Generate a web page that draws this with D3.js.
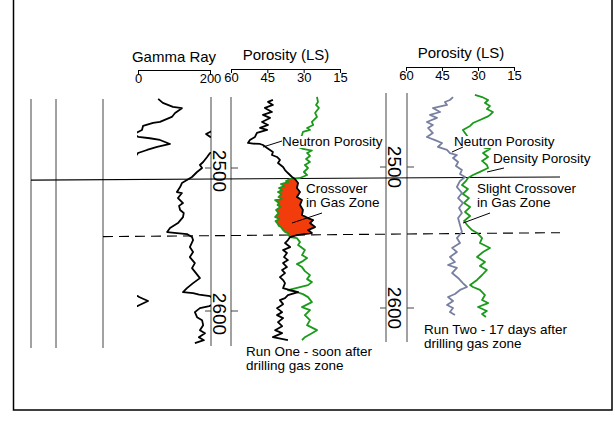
<!DOCTYPE html>
<html>
<head>
<meta charset="utf-8">
<script src="https://cdn.jsdelivr.net/npm/d3@7"></script>
<style>
  body { margin: 0; background: #fff; }
  svg { display: block; }
  text { font-family: Arial, "Liberation Sans", sans-serif; }
</style>
</head>
<body>
<div id="chart"></div>
<script>
// ---- data read off the log: [depth (ft), value] ----
// gamma ray in API; values over 200 wrap back onto the 0-200 scale
const gammaRay = [
  [2451.7,256],[2454.5,269],[2457.3,297],[2458.2,322],[2461.5,303],[2464.3,294],[2467.8,261],[2468.5,242],
  [2470.6,214],[2473.4,211],[2476.2,189],[2478.3,201],[2479.2,233],[2480.4,261],[2483.2,289],[2485.3,253],
  [2487.4,225],[2489.5,200],[2492.3,192],[2495.8,181],[2497.9,172],[2500,178],[2502.8,164],[2506.3,150],
  [2508.4,136],[2510.5,122],[2513.3,117],[2516.8,108],[2517.5,122],[2521,111],[2524.5,125],[2526.5,114],
  [2529.4,117],[2531.5,127],[2534.3,125],[2538.5,111],[2542,89],[2544.8,81],[2545.5,108],[2546.2,136],
  [2548.3,150],[2550.4,153],[2555.3,144],[2558.8,153],[2562.3,144],[2566.5,158],[2570,150],[2577,172],
  [2580.5,153],[2584,136],[2586.8,125],[2587.5,153],[2588.5,170],[2589.6,200],[2590.2,203],[2593,228],
  [2596,203],[2596.6,198],[2598,172],[2600.8,158],[2604.3,164],[2606.4,178],[2609.9,181],[2613.4,172],
  [2615.5,186],[2618.3,169],[2620.4,183],[2622.5,158]
];

// Run One (soon after drilling), porosity in % limestone units
const runOneNeutron = [
  [2452.4,42.7],[2453.8,44.7],[2455.9,42.7],[2458,46.0],[2460.8,43.1],[2462.9,46.8],[2465,43.9],[2467.8,47.2],
  [2469.9,44.7],[2472,48.0],[2473.4,45.1],[2475.5,49.3],[2478.3,50.1],[2480.4,52.2],[2482.5,53.0],[2482.9,50.9],
  [2483.2,48.0],[2483.9,46.8],[2486,45.1],[2487.4,43.9],[2488.8,42.7],[2490.9,43.1],[2492.3,41.0],[2494.4,39.8],
  [2496.5,40.6],[2499.3,38.5],[2501.4,37.7],[2503.5,36.5],[2506.3,34.8],[2507.7,33.6],
  [2510.5,32.3],[2514,32.8],[2516.8,31.5],[2520.3,32.8],[2522.4,30.7],[2525.9,31.5],[2529.4,30.3],[2532.9,30.7],
  [2535,28.2],[2536.4,26.1],[2538.5,27.4],[2541.3,25.3],[2543.4,28.2],[2545.5,26.6],[2546.9,32.8],[2548.3,35.6],
  [2550.4,36.5],[2552.5,37.7],[2555.3,35.6],[2557.4,38.5],[2559.5,36.9],[2562.3,38.1],[2564.4,36.5],[2566.5,38.5],
  [2569.3,36.9],[2571.4,38.9],[2573.5,37.7],[2576.3,39.8],[2578.4,38.5],[2580.5,37.7],[2584,38.5],[2585.4,35.6],
  [2586.8,32.3],[2588.9,36.5],[2591,37.7],[2592.4,39.8],[2595.2,38.5],[2598,41.0],[2600.8,38.9],[2602.9,41.0],
  [2605,38.5],[2607.8,40.6],[2610.6,38.9],[2613.4,41.8],[2615.5,38.9],[2618.3,42.7],[2620.4,36.5]
];
const runOneDensity = [
  [2450.3,24.5],[2453.8,24.1],[2455.9,24.9],[2458,23.7],[2461.5,25.3],[2464.3,24.5],[2467.8,26.6],[2469.9,26.1],
  [2472,28.6],[2473.4,27.4],[2474.8,30.3],[2476.9,30.7],[2480.4,31.5],[2485.3,32.3],[2486.7,30.3],[2487.8,26.6],
  [2489.5,28.6],[2491.6,27.4],[2493.7,29.0],[2495.8,27.4],[2497.9,29.5],[2500,28.2],[2502.8,29.9],[2504.9,28.6],
  [2507,31.5],
  [2507.7,35.6],[2509.1,37.3],[2509.8,36.4],[2511.2,39.4],[2512.6,38.0],[2514,40.2],[2515.4,38.9],[2516.8,40.6],
  [2518.2,39.2],[2520.3,40.4],[2521.7,39.0],[2522.4,41.8],[2524.5,40.2],[2525.9,40.8],[2527.3,39.6],[2529.4,41.4],
  [2531.5,40.4],[2534.3,41.8],[2535.7,40.0],[2537.1,41.6],[2538.5,40.9],[2540.6,40.2],[2541.3,39.4],[2543.4,38.5],
  [2544.8,37.6],[2545.5,36.5],[2547,36.2],[2548.3,35.6],
  [2549,32.8],[2551.8,31.5],[2553.9,32.3],[2557.4,29.5],[2560.9,30.7],[2563,28.6],[2565.1,30.3],[2567.2,32.8],
  [2569.3,30.7],[2572.1,29.5],[2574.9,27.4],[2577.7,28.6],[2579.8,26.6],[2581.9,28.2],[2583.3,31.5],[2585.4,36.5],
  [2586.8,32.8],[2588.2,30.3],[2590.3,28.2],[2593.8,26.6],[2597.3,30.7],[2599.4,27.4],[2602.9,29.5],[2606.4,27.4],
  [2609.9,28.6],[2613.4,24.5],[2615.5,26.6],[2618.3,29.5],[2620.4,30.7]
];

// Run Two (17 days after drilling)
const runTwoNeutron = [
  [2450.4,40.4],[2452.5,41.7],[2453.9,43.8],[2456,42.9],[2458.2,48.8],[2461,45.8],[2463.1,50.0],[2465.2,47.1],
  [2468.1,51.3],[2470.2,48.8],[2472.3,50.8],[2475.9,48.8],[2478.7,51.3],[2480.9,47.9],[2483,45.0],[2485.8,46.7],
  [2487.9,42.9],[2490.1,41.7],[2491.5,38.8],[2493.6,40.4],[2496.5,38.3],[2499.3,39.2],[2502.1,36.7],[2505,37.5],
  [2507.1,35.4],[2509.9,37.5],[2514.2,38.8],[2518.4,36.7],[2522,38.3],[2525.5,36.3],[2529.1,37.9],[2532.6,36.7],
  [2536.2,38.3],[2541.1,37.5],[2546.1,36.7],[2550.4,38.8],[2553.9,37.5],[2557.4,40.8],[2560.3,38.8],[2563.8,41.7],
  [2567.4,39.6],[2569.5,42.5],[2571.6,38.8],[2575.2,40.8],[2578.7,38.3],[2582.3,36.3],[2585.1,34.6],[2587.2,37.5],
  [2590.1,39.6],[2592.2,42.5],[2595,40.4],[2597.9,42.9],[2600,40.4],[2602.8,41.7],[2605,39.6]
];
const runTwoDensity = [
  [2448.9,31.3],[2450.4,28.3],[2452.5,25.8],[2454.6,27.1],[2456.7,25.0],[2458.9,26.3],[2461,23.8],[2463.1,25.0],
  [2464.5,26.3],[2466.7,29.2],[2468.8,32.1],[2470.9,33.3],[2473.8,36.3],[2475.9,35.4],[2480.9,33.3],[2486.5,27.1],
  [2487.2,25.0],[2490.1,27.9],[2492.9,25.8],[2495.7,28.3],[2498.6,26.3],[2500.7,25.8],[2503.5,29.2],[2505.7,32.1],
  [2507.8,34.2],[2509.9,35.0],[2512.8,36.7],[2515.6,34.2],[2519.1,36.3],[2522,33.8],[2525.5,35.8],[2528.4,33.3],
  [2531.9,35.4],[2534.8,33.3],[2538.3,35.8],[2541.8,34.2],[2544.7,32.5],[2546.8,30.4],[2550.4,28.3],[2553.9,29.2],
  [2557.4,25.0],[2560.3,27.9],[2563.8,30.4],[2567.4,27.1],[2570.2,29.2],[2573,26.3],[2576.6,28.3],[2580.1,30.4],
  [2583.7,33.3],[2585.1,32.1],[2587.2,29.2],[2590.8,27.1],[2594.3,28.3],[2596.5,25.8],[2599.3,30.0],[2602.1,26.3],
  [2604.3,28.3],[2606.4,26.7]
];

const gammaTicks = [0, 200];
const porosityTicks = [60, 45, 30, 15];
const depthTicks = [2500, 2600];
const gasTopDepth = 2508.5;
const gasBaseDepth = 2548;

function drawLog(div) {
  const width = 615, height = 431;
  const font = 'Arial, "Liberation Sans", sans-serif';

  const svg = div.append('svg')
    .attr('width', width)
    .attr('height', height);

  // depth scales (each run's track is drawn a little differently)
  const yOne = d3.scaleLinear().domain([2500, 2600]).range([168, 311]);
  const yTwo = d3.scaleLinear().domain([2500, 2600]).range([167, 308]);

  // value scales
  const gx = d3.scaleLinear().domain([0, 200]).range([138, 210]);
  const pxOne = d3.scaleLinear().domain([60, 15]).range([231, 340]);
  const pxTwo = d3.scaleLinear().domain([60, 15]).range([406, 514]);

  const green = '#1a9a1a';
  const slate = '#7880a2';
  const red = '#f23c0c';

  // frame
  svg.append('rect')
    .attr('x', 13.5).attr('y', -2)
    .attr('width', 598.5).attr('height', 412)
    .attr('fill', 'none')
    .attr('stroke', '#000')
    .attr('stroke-width', 1.5);

  // track lines
  const lines = svg.append('g').attr('stroke', '#444').attr('stroke-width', 1);
  [31, 56, 103].forEach(x => {
    lines.append('line').attr('x1', x).attr('x2', x).attr('y1', 99).attr('y2', 348);
  });
  [211, 231].forEach(x => {
    lines.append('line').attr('x1', x).attr('x2', x).attr('y1', 97).attr('y2', 346);
  });
  [386, 407].forEach(x => {
    lines.append('line').attr('x1', x).attr('x2', x).attr('y1', 93).attr('y2', 342);
  });

  // depth ticks and labels
  function depthTrack(y, left, right, base, shift) {
    depthTicks.forEach(d => {
      svg.append('line').attr('x1', left - 6).attr('x2', left)
        .attr('y1', y(d)).attr('y2', y(d)).attr('stroke', '#444');
      svg.append('line').attr('x1', right).attr('x2', right + 7)
        .attr('y1', y(d)).attr('y2', y(d)).attr('stroke', '#444');
      svg.append('text')
        .attr('transform', `translate(${base},${y(d) + shift}) rotate(90)`)
        .attr('text-anchor', 'middle')
        .attr('font-size', 19)
        .attr('fill', '#000')
        .text(d);
    });
  }
  depthTrack(yOne, 211, 231, 213, 3);
  depthTrack(yTwo, 386, 407, 388, 0);

  // gas zone markers
  svg.append('line')
    .attr('x1', 31).attr('y1', yOne(gasTopDepth))
    .attr('x2', 560).attr('y2', yTwo(gasTopDepth) - 2)
    .attr('stroke', '#000').attr('stroke-width', 1.1);
  svg.append('line')
    .attr('x1', 103).attr('y1', yOne(gasBaseDepth))
    .attr('x2', 560).attr('y2', yTwo(gasBaseDepth) - 2)
    .attr('stroke', '#000').attr('stroke-width', 1.1)
    .attr('stroke-dasharray', '10,6');

  // headers and scales
  function header(title, cx, ty, scale, ticks, ay) {
    svg.append('text')
      .attr('x', cx).attr('y', ty)
      .attr('text-anchor', 'middle')
      .attr('font-size', 15)
      .attr('fill', '#000')
      .text(title);
    svg.append('g')
      .attr('transform', `translate(0,${ay})`)
      .call(d3.axisBottom(scale).tickValues(ticks).tickSizeInner(4).tickSizeOuter(0).tickPadding(0))
      .attr('font-size', 13)
      .attr('font-family', font)
      .call(g => g.selectAll('.domain, line').attr('stroke', '#000'));
  }
  header('Gamma Ray', 174, 62, gx, gammaTicks, 70);
  header('Porosity (LS)', 286, 60, pxOne, porosityTicks, 69);
  header('Porosity (LS)', 461, 58, pxTwo, porosityTicks, 67);

  // gamma ray with wrap-around backup trace
  svg.append('clipPath').attr('id', 'gammaClip')
    .append('rect')
    .attr('x', gx(0) - 1).attr('y', 0)
    .attr('width', gx(200) - gx(0) + 2).attr('height', height);

  const gammaMain = d3.line().x(d => gx(d[1])).y(d => yOne(d[0]));
  const gammaWrap = d3.line().x(d => gx(d[1] - 200)).y(d => yOne(d[0]));
  const gg = svg.append('g').attr('clip-path', 'url(#gammaClip)')
    .attr('fill', 'none').attr('stroke', '#000').attr('stroke-width', 1.8)
    .attr('stroke-linejoin', 'round');
  gg.append('path').attr('d', gammaMain(gammaRay));
  gg.append('path').attr('d', gammaWrap(gammaRay));

  // Run One crossover fill between density (left) and neutron (right)
  const inGas = d => d[0] >= 2507.5 && d[0] <= 2548.5;
  const crossover = runOneNeutron.filter(inGas)
    .concat(runOneDensity.filter(inGas).reverse());
  svg.append('path')
    .attr('d', d3.line().x(d => pxOne(d[1])).y(d => yOne(d[0]))(crossover) + 'Z')
    .attr('fill', red);

  // porosity curves
  function curve(data, x, y, color) {
    svg.append('path')
      .attr('d', d3.line().x(d => x(d[1])).y(d => y(d[0]))(data))
      .attr('fill', 'none')
      .attr('stroke', color)
      .attr('stroke-width', 1.8)
      .attr('stroke-linejoin', 'round');
  }
  curve(runOneDensity, pxOne, yOne, green);
  curve(runOneNeutron, pxOne, yOne, '#000');
  curve(runTwoDensity, pxTwo, yTwo, green);
  curve(runTwoNeutron, pxTwo, yTwo, slate);

  // annotations
  function label(textLines, x, y, bg) {
    const t = svg.append('text')
      .attr('x', x).attr('y', y)
      .attr('font-size', 13.5)
      .attr('fill', '#000');
    textLines.forEach((s, i) => {
      t.append('tspan').attr('x', x).attr('dy', i === 0 ? 0 : 13.5).text(s);
    });
    if (bg) {
      const b = t.node().getBBox();
      svg.insert('rect', () => t.node())
        .attr('x', b.x).attr('y', b.y + 2)
        .attr('width', b.width).attr('height', b.height - 3)
        .attr('fill', '#fff');
    }
  }
  function leader(x1, y1, x2, y2) {
    svg.append('line')
      .attr('x1', x1).attr('y1', y1).attr('x2', x2).attr('y2', y2)
      .attr('stroke', '#000').attr('stroke-width', 1);
  }

  label(['Neutron Porosity'], 282, 146, true);
  leader(263, 147, 282, 141);
  label(['Crossover', 'in Gas Zone'], 306, 193, false);
  leader(292, 223, 322, 213);
  label(['Run One - soon after', 'drilling gas zone'], 246, 356, false);

  label(['Neutron Porosity'], 454, 146, true);
  leader(452, 152, 463, 147);
  label(['Density Porosity'], 493, 163, false);
  leader(487, 172, 504, 168);
  label(['Slight Crossover', 'in Gas Zone'], 477, 193, false);
  leader(463, 223, 490, 213);
  label(['Run Two - 17 days after', 'drilling gas zone'], 424, 334, false);
}

drawLog(d3.select('#chart'));
</script>
</body>
</html>
